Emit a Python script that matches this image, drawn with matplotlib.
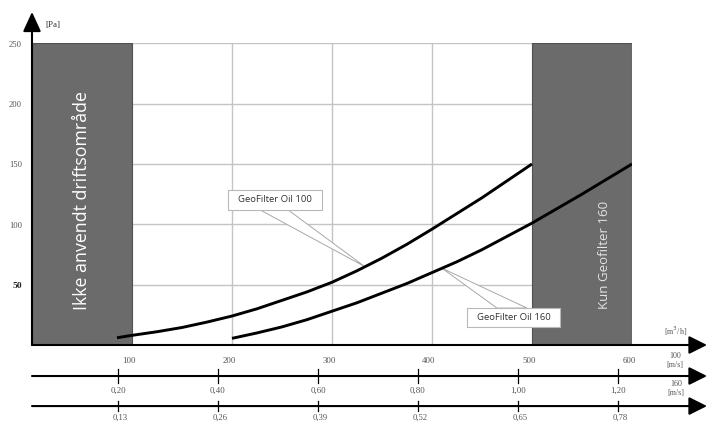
import matplotlib
matplotlib.use("Agg")
import matplotlib.pyplot as plt
from matplotlib.patches import Rectangle, Polygon
import numpy as np

# ---------------- data ----------------
flow_100 = [85, 100, 125, 150, 175, 200, 225, 250, 275, 300, 325, 350, 375,
            400, 425, 450, 475, 500]
pa_100 = [6, 8, 11, 14.5, 19, 24, 30, 37, 44, 52, 61.5, 72, 83.5,
          96, 109, 122, 136, 150]
flow_160 = [200, 225, 250, 275, 300, 325, 350, 375, 400, 425, 450, 475, 500,
            525, 550, 575, 600]
pa_160 = [5.5, 10, 15, 21, 28, 35, 43, 51, 60, 69, 79, 90, 101,
          113, 125, 137.5, 150]

y_ticks = [50, 100, 150, 200, 250]
x_ticks = [100, 200, 300, 400, 500, 600]
v100_ticks = [0.20, 0.40, 0.60, 0.80, 1.00, 1.20]
v100_labels = ["0,20", "0,40", "0,60", "0,80", "1,00", "1,20"]
v160_labels = ["0,13", "0,26", "0,39", "0,52", "0,65", "0,78"]

unused_left = (0, 100)
only_160 = (500, 600)

serif = "Liberation Serif"
sans = "Open Sans"

fig = plt.figure(figsize=(7.07, 4.23), dpi=100)
fig.patch.set_facecolor("white")
ax = fig.add_axes([32 / 707, 78 / 423, 600 / 707, 301.7 / 423])
ax.set_xlim(0, 600)
ax.set_ylim(0, 250)
ax.axis("off")

# grid
for gx in [200, 300, 400]:
    ax.plot([gx, gx], [0, 250], color="#c4c4c4", lw=1.0, zorder=1)
for gy in y_ticks:
    ax.plot([0, 600], [gy, gy], color="#c4c4c4", lw=1.0, zorder=1)

# shaded regions
for (x0, x1) in [unused_left, only_160]:
    ax.add_patch(Rectangle((x0, 0), x1 - x0, 250, facecolor="#6b6b6b",
                           edgecolor="#505050", lw=0.8, zorder=2))
ax.text(np.mean(unused_left), 120, "Ikke anvendt driftsområde", rotation=90,
        ha="center", va="center", color="white", fontsize=12.8,
        family=sans, zorder=3)
ax.text(573, 75, "Kun Geofilter 160", rotation=90, ha="center", va="center",
        color="#e4e4e4", fontsize=9.5, family=sans, zorder=3)

# callout wedges
def wedge(base_x0, base_x1, base_y, tip_x, fx, fy):
    tip_y = np.interp(tip_x, fx, fy)
    ax.add_patch(Polygon([[base_x0, base_y], [base_x1, base_y], [tip_x, tip_y]],
                         closed=True, facecolor="white", edgecolor="#a8a8a8",
                         lw=0.7, zorder=3))

wedge(228, 256, 112, 333, flow_100, pa_100)
wedge(465, 495, 30.6, 410, flow_160, pa_160)

# curves
ax.plot(flow_100, pa_100, color="black", lw=2.1, zorder=4,
        solid_capstyle="butt", solid_joinstyle="round")
ax.plot(flow_160, pa_160, color="black", lw=2.1, zorder=4,
        solid_capstyle="butt", solid_joinstyle="round")

# label boxes
def label_box(x0, x1, y0, y1, txt):
    ax.add_patch(Rectangle((x0, y0), x1 - x0, y1 - y0, facecolor="white",
                           edgecolor="#b8b8b8", lw=0.8, zorder=5))
    ax.text((x0 + x1) / 2, (y0 + y1) / 2, txt, ha="center", va="center",
            fontsize=6.8, family=sans, color="#333333", zorder=6)

label_box(196, 290, 112, 128.5, "GeoFilter Oil 100")
label_box(435, 528, 15.2, 30.6, "GeoFilter Oil 160")

# y axis with arrow
ax.annotate("", xy=(0, 276), xytext=(0, 0),
            arrowprops=dict(arrowstyle="-|>,head_length=1.2,head_width=0.55",
                            lw=1.5, color="black", shrinkA=0, shrinkB=0,
                            mutation_scale=10),
            annotation_clip=False, zorder=7)
ax.text(13, 265, "[Pa]", fontsize=6.5, family=serif, color="#333333",
        ha="left", va="center")
for yt in y_ticks:
    ax.text(-10, yt - 1, str(yt), ha="right", va="center", family=serif,
            fontsize=6.8 if yt == 50 else 6.2,
            fontweight="bold" if yt == 50 else "normal",
            color="#222222" if yt == 50 else "#555555", clip_on=False)

# x axes with arrows
rows = [0, -25.7, -50.6]
for ry in rows:
    ax.annotate("", xy=(675, ry), xytext=(0, ry),
                arrowprops=dict(arrowstyle="-|>,head_length=1.1,head_width=0.55",
                                lw=1.5, color="black", shrinkA=0, shrinkB=0,
                                mutation_scale=10),
                annotation_clip=False, zorder=7)

for xt in x_ticks:
    ax.text(xt - 3, -13, str(xt), ha="center", va="center", family=serif,
            fontsize=6.4, color="#555555", clip_on=False)

for v, l1, l2 in zip(v100_ticks, v100_labels, v160_labels):
    px = v * 500 - 14
    ax.plot([px, px], [rows[1] - 5.8, rows[1] + 5.8], color="black", lw=0.9,
            clip_on=False)
    ax.plot([px, px], [rows[2] - 4.2, rows[2] + 4.2], color="black", lw=0.9,
            clip_on=False)
    ax.text(px, -37.9, l1, ha="center", va="center", family=serif,
            fontsize=6.4, color="#555555", clip_on=False)
    ax.text(px + 2, -60.3, l2, ha="center", va="center", family=serif,
            fontsize=6.2, color="#555555", clip_on=False)

ax.text(644, 11, "[m$^3$/h]", ha="center", va="center", family=serif,
        fontsize=5.8, color="#555555", clip_on=False)
ax.text(643, -13, "100\n[m/s]", ha="center", va="center", family=serif,
        fontsize=5.8, color="#555555", linespacing=1.2, clip_on=False)
ax.text(644, -36, "160\n[m/s]", ha="center", va="center", family=serif,
        fontsize=5.8, color="#555555", linespacing=1.2, clip_on=False)

fig.savefig("out.png", dpi=100, facecolor="white")
